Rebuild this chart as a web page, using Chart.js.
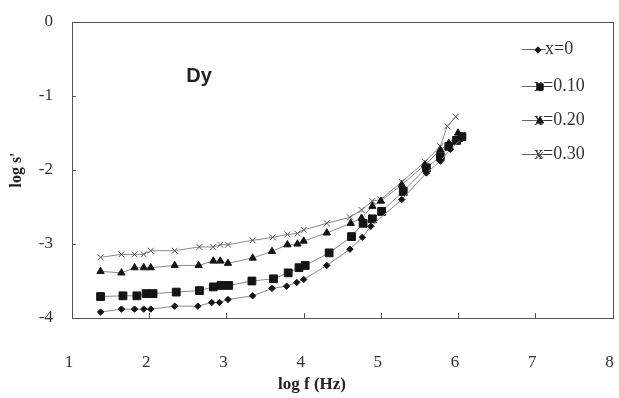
<!DOCTYPE html>
<html>
<head>
<meta charset="utf-8">
<script src="https://cdn.jsdelivr.net/npm/chart.js@4/dist/chart.umd.min.js"></script>
<style>
  html, body { margin: 0; padding: 0; background: #fff; }
  #wrap { width: 619px; height: 398px; }
</style>
</head>
<body>
<div id="wrap"><canvas id="chart" width="619" height="398"></canvas></div>
<script>
// series (log f, log s')
const labels = ['x=0', 'x=0.10', 'x=0.20', 'x=0.30'];

const x0 = [1.37, 1.64, 1.81, 1.93, 2.02, 2.33, 2.63, 2.81, 2.91, 3.02, 3.34, 3.59, 3.78, 3.91, 4.00, 4.30, 4.60, 4.76, 4.87, 5.27, 5.59, 5.77, 5.90, 6.05];
const y0 = [-3.92, -3.88, -3.88, -3.88, -3.88, -3.84, -3.84, -3.79, -3.79, -3.75, -3.70, -3.60, -3.57, -3.52, -3.48, -3.29, -3.07, -2.91, -2.76, -2.40, -2.04, -1.88, -1.72, -1.58];

const x10 = [1.37, 1.66, 1.84, 1.96, 2.05, 2.35, 2.65, 2.83, 2.93, 3.03, 3.33, 3.61, 3.80, 3.94, 4.02, 4.33, 4.62, 4.77, 4.89, 5.01, 5.29, 5.59, 5.77, 5.88, 5.98, 6.05];
const y10 = [-3.71, -3.70, -3.70, -3.67, -3.67, -3.65, -3.63, -3.58, -3.56, -3.56, -3.50, -3.47, -3.39, -3.32, -3.29, -3.12, -2.90, -2.72, -2.66, -2.56, -2.29, -1.97, -1.82, -1.68, -1.60, -1.55];

const x20 = [1.37, 1.64, 1.81, 1.93, 2.02, 2.33, 2.64, 2.83, 2.92, 3.02, 3.34, 3.59, 3.79, 3.92, 4.00, 4.30, 4.61, 4.75, 4.89, 5.00, 5.27, 5.57, 5.77, 5.88, 6.00, 6.05];
const y20 = [-3.37, -3.39, -3.32, -3.32, -3.32, -3.29, -3.29, -3.23, -3.23, -3.26, -3.19, -3.10, -3.01, -3.00, -2.96, -2.85, -2.72, -2.65, -2.49, -2.42, -2.20, -1.93, -1.73, -1.64, -1.50, -1.55];

const x30 = [1.37, 1.64, 1.81, 1.93, 2.02, 2.33, 2.65, 2.83, 2.92, 3.02, 3.34, 3.60, 3.79, 3.92, 4.00, 4.30, 4.60, 4.75, 4.89, 5.00, 5.27, 5.57, 5.77, 5.86, 5.97];
const y30 = [-3.18, -3.14, -3.14, -3.14, -3.09, -3.09, -3.04, -3.04, -3.01, -3.01, -2.95, -2.91, -2.87, -2.86, -2.81, -2.72, -2.64, -2.54, -2.42, -2.40, -2.16, -1.89, -1.68, -1.41, -1.28];

const xTicks = [1, 2, 3, 4, 5, 6, 7, 8];
const yTicks = [0, -1, -2, -3, -4];

const pts = (xs, ys) => xs.map((v, i) => ({ x: v, y: ys[i] }));

const serif = '"Liberation Serif", "Times New Roman", serif';
const lineColor = '#8a8a8a';
const markColor = '#141414';

const styles = [
  { pointStyle: 'rectRot', radius: 3.2 },
  { pointStyle: 'rect', radius: 5.5 },
  { pointStyle: 'triangle', radius: 4.2 },
  { pointStyle: 'crossRot', radius: 4.2 }
];

const series = [pts(x0, y0), pts(x10, y10), pts(x20, y20), pts(x30, y30)];

const datasets = series.map((d, i) => ({
  label: labels[i],
  data: d,
  showLine: true,
  borderColor: lineColor,
  borderWidth: 1,
  pointStyle: styles[i].pointStyle,
  pointRadius: styles[i].radius,
  pointBackgroundColor: markColor,
  pointBorderColor: i === 3 ? '#555' : markColor,
  pointBorderWidth: 1,
  tension: 0
}));

// box, inside tick marks, "Dy" label, x title and the legend
const decor = {
  id: 'decor',
  afterDraw(chart) {
    const ctx = chart.ctx;
    const a = chart.chartArea;
    const xs = chart.scales.x, ys = chart.scales.y;
    ctx.save();
    ctx.strokeStyle = '#555';
    ctx.lineWidth = 1;
    ctx.strokeRect(Math.round(a.left) + 0.5, Math.round(a.top) + 0.5,
      Math.round(a.right - a.left), Math.round(a.bottom - a.top));

    ctx.beginPath();
    xTicks.slice(1, -1).forEach(v => {
      const px = Math.round(xs.getPixelForValue(v)) + 0.5;
      ctx.moveTo(px, a.bottom);
      ctx.lineTo(px, a.bottom - 5);
    });
    yTicks.slice(1, -1).forEach(v => {
      const py = Math.round(ys.getPixelForValue(v)) + 0.5;
      ctx.moveTo(a.left, py);
      ctx.lineTo(a.left + 4, py);
    });
    ctx.stroke();

    ctx.fillStyle = '#222';
    ctx.font = 'bold 20px "Liberation Sans", Arial, sans-serif';
    ctx.textAlign = 'center';
    ctx.textBaseline = 'middle';
    ctx.fillText('Dy', 199, 76);

    ctx.font = 'bold 17px ' + serif;
    ctx.fillText('log f (Hz)', 312, 385);

    // legend
    const rows = [49, 86, 120, 154];
    const textX = [545, 534, 534, 534];
    const markX = [538, 540, 540, 540];
    ctx.font = '18px ' + serif;
    ctx.textAlign = 'left';
    chart.data.datasets.forEach((ds, i) => {
      const y = rows[i];
      ctx.strokeStyle = '#666';
      ctx.beginPath();
      ctx.moveTo(522, y + 0.5);
      ctx.lineTo(546, y + 0.5);
      ctx.stroke();
      ctx.fillStyle = '#333';
      ctx.fillText(ds.label, textX[i], y);
      ctx.fillStyle = markColor;
      ctx.strokeStyle = i === 3 ? '#555' : markColor;
      Chart.helpers.drawPoint(ctx, {
        pointStyle: ds.pointStyle,
        radius: Math.min(ds.pointRadius, 4.5),
        rotation: 0,
        borderWidth: 1
      }, markX[i], y + 1);
    });
    ctx.restore();
  }
};

new Chart(document.getElementById('chart'), {
  type: 'scatter',
  data: { datasets },
  options: {
    responsive: false,
    animation: false,
    layout: { padding: { top: 22, right: 4, left: 0, bottom: 0 } },
    plugins: {
      legend: { display: false },
      tooltip: { enabled: false }
    },
    scales: {
      x: {
        type: 'linear',
        min: 1,
        max: 8,
        afterBuildTicks: s => { s.ticks = xTicks.map(v => ({ value: v })); },
        afterFit: s => { s.height = 80; },
        grid: { display: false, drawTicks: true, tickLength: 34 },
        border: { display: false },
        ticks: {
          padding: 0,
          labelOffset: -3,
          color: '#333',
          font: { family: serif, size: 17 }
        }
      },
      y: {
        type: 'linear',
        min: -4,
        max: 0,
        afterBuildTicks: s => { s.ticks = yTicks.map(v => ({ value: v })); },
        afterFit: s => { s.width = 72; },
        grid: { display: false, drawTicks: true, tickLength: 19 },
        border: { display: false },
        ticks: {
          padding: 0,
          color: '#333',
          font: { family: serif, size: 17 }
        },
        title: {
          display: true,
          text: "log s'",
          color: '#222',
          padding: { top: 7, bottom: 0 },
          font: { family: serif, size: 16, weight: 'bold' }
        }
      }
    }
  },
  plugins: [decor]
});
</script>
</body>
</html>
